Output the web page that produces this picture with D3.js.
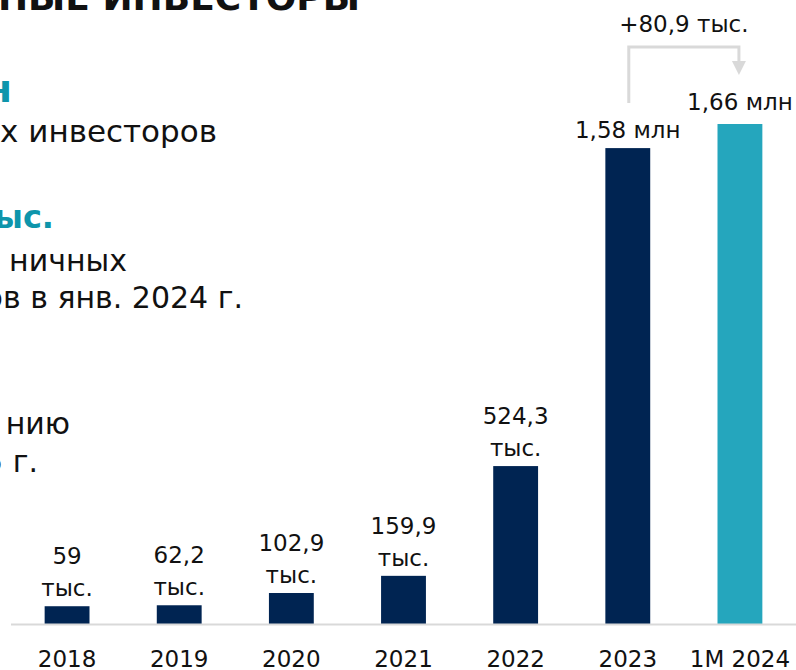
<!DOCTYPE html>
<html>
<head>
<meta charset="utf-8">
<script src="https://cdn.jsdelivr.net/npm/d3@7"></script>
<style>
  body { margin: 0; background: #fff; }
  svg text { font-family: "DejaVu Sans", sans-serif; }
</style>
</head>
<body>
<div id="main"></div>
<script>
const ctx = { w: 796, h: 670 };

// chart data (thousand investors)
const years = ["2018", "2019", "2020", "2021", "2022", "2023", "1M 2024"];
const investors = [59, 62.2, 102.9, 159.9, 524.3, 1580, 1660];
const valueLabels = [["59", "тыс."], ["62,2", "тыс."], ["102,9", "тыс."], ["159,9", "тыс."],
                     ["524,3", "тыс."], ["1,58 млн"], ["1,66 млн"]];
const deltaLabel = "+80,9 тыс.";

// cut-off text on the left side of the slide
const sideText = [
    { t: "НЫЕ ИНВЕСТОРЫ", y: 10, x: 360, bold: true, size: 36, color: "#111" },
    { t: "н", y: 102, x: 12, bold: true, size: 38, color: "#0e95ab" },
    { t: "х инвесторов", y: 142, x: 217, size: 31, color: "#111" },
    { t: "ыс.", y: 228, x: 54, bold: true, size: 32, color: "#0e95ab" },
    { t: "ничных", y: 271, x: 127, size: 30, color: "#111" },
    { t: "ов в янв. 2024 г.", y: 308, x: 243, size: 30, color: "#111" },
    { t: "нию", y: 434, x: 70, size: 30, color: "#111" },
    { t: "5 г.", y: 472, x: 38, size: 30, color: "#111" }
];

const svg = d3.select("#main").append("svg")
    .attr("width", ctx.w).attr("height", ctx.h);

const x = d3.scaleBand().domain(years).range([11, 796])
    .paddingInner(0.6).paddingOuter(0.3);
const y = d3.scaleLinear().domain([0, 1660]).range([624, 124]);

// left text block
svg.append("g").selectAll("text")
    .data(sideText).enter().append("text")
    .attr("x", d => d.x).attr("y", d => d.y)
    .attr("text-anchor", "end")
    .attr("font-size", d => d.size)
    .attr("font-weight", d => d.bold ? "bold" : "normal")
    .attr("fill", d => d.color)
    .text(d => d.t);

// bars
svg.append("g").selectAll("rect")
    .data(years).enter().append("rect")
    .attr("x", d => x(d))
    .attr("width", x.bandwidth())
    .attr("y", (d, i) => y(investors[i]))
    .attr("height", (d, i) => y(0) - y(investors[i]))
    .attr("fill", (d, i) => i === years.length - 1 ? "#25a6bd" : "#002452");

// baseline
svg.append("line")
    .attr("x1", 11).attr("x2", 796)
    .attr("y1", y(0) + 0.5).attr("y2", y(0) + 0.5)
    .attr("stroke", "#d9d9d9").attr("stroke-width", 2);

// category axis labels
const xAxis = svg.append("g")
    .attr("transform", `translate(0,${y(0)})`)
    .call(d3.axisBottom(x).tickSize(0).tickPadding(0));
xAxis.select(".domain").remove();
xAxis.selectAll("text")
    .attr("y", 43).attr("dy", null)
    .attr("font-size", 23)
    .attr("font-family", "DejaVu Sans, sans-serif")
    .attr("fill", "#111");

// value labels
const lblG = svg.append("g").selectAll("text")
    .data(years).enter().append("text")
    .attr("text-anchor", "middle")
    .attr("font-size", 23)
    .attr("fill", "#111")
    .attr("x", d => x(d) + x.bandwidth() / 2)
    .attr("y", (d, i) => y(investors[i]) - (i === years.length - 1 ? 14 : 10) - (valueLabels[i].length - 1) * 32);
lblG.selectAll("tspan")
    .data((d, i) => valueLabels[i]).enter().append("tspan")
    .attr("x", function () { return d3.select(this.parentNode).attr("x"); })
    .attr("dy", (d, j) => j === 0 ? 0 : 32)
    .text(d => d);

// growth bracket between 2023 and 1M 2024
const x0 = x("2023") + x.bandwidth() / 2 + 1;
const x1 = x("1M 2024") + x.bandwidth() / 2 - 1;
svg.append("path")
    .attr("d", `M${x0},${y(1580) - 45} V47 H${x1} V63`)
    .attr("fill", "none")
    .attr("stroke", "#d9d9d9").attr("stroke-width", 3);
svg.append("path")
    .attr("d", `M${x1 - 7},61 L${x1 + 7},61 L${x1},75 Z`)
    .attr("fill", "#d9d9d9");
svg.append("text")
    .attr("x", (x0 + x1) / 2).attr("y", 32)
    .attr("text-anchor", "middle")
    .attr("font-size", 23).attr("fill", "#111")
    .text(deltaLabel);
</script>
</body>
</html>
